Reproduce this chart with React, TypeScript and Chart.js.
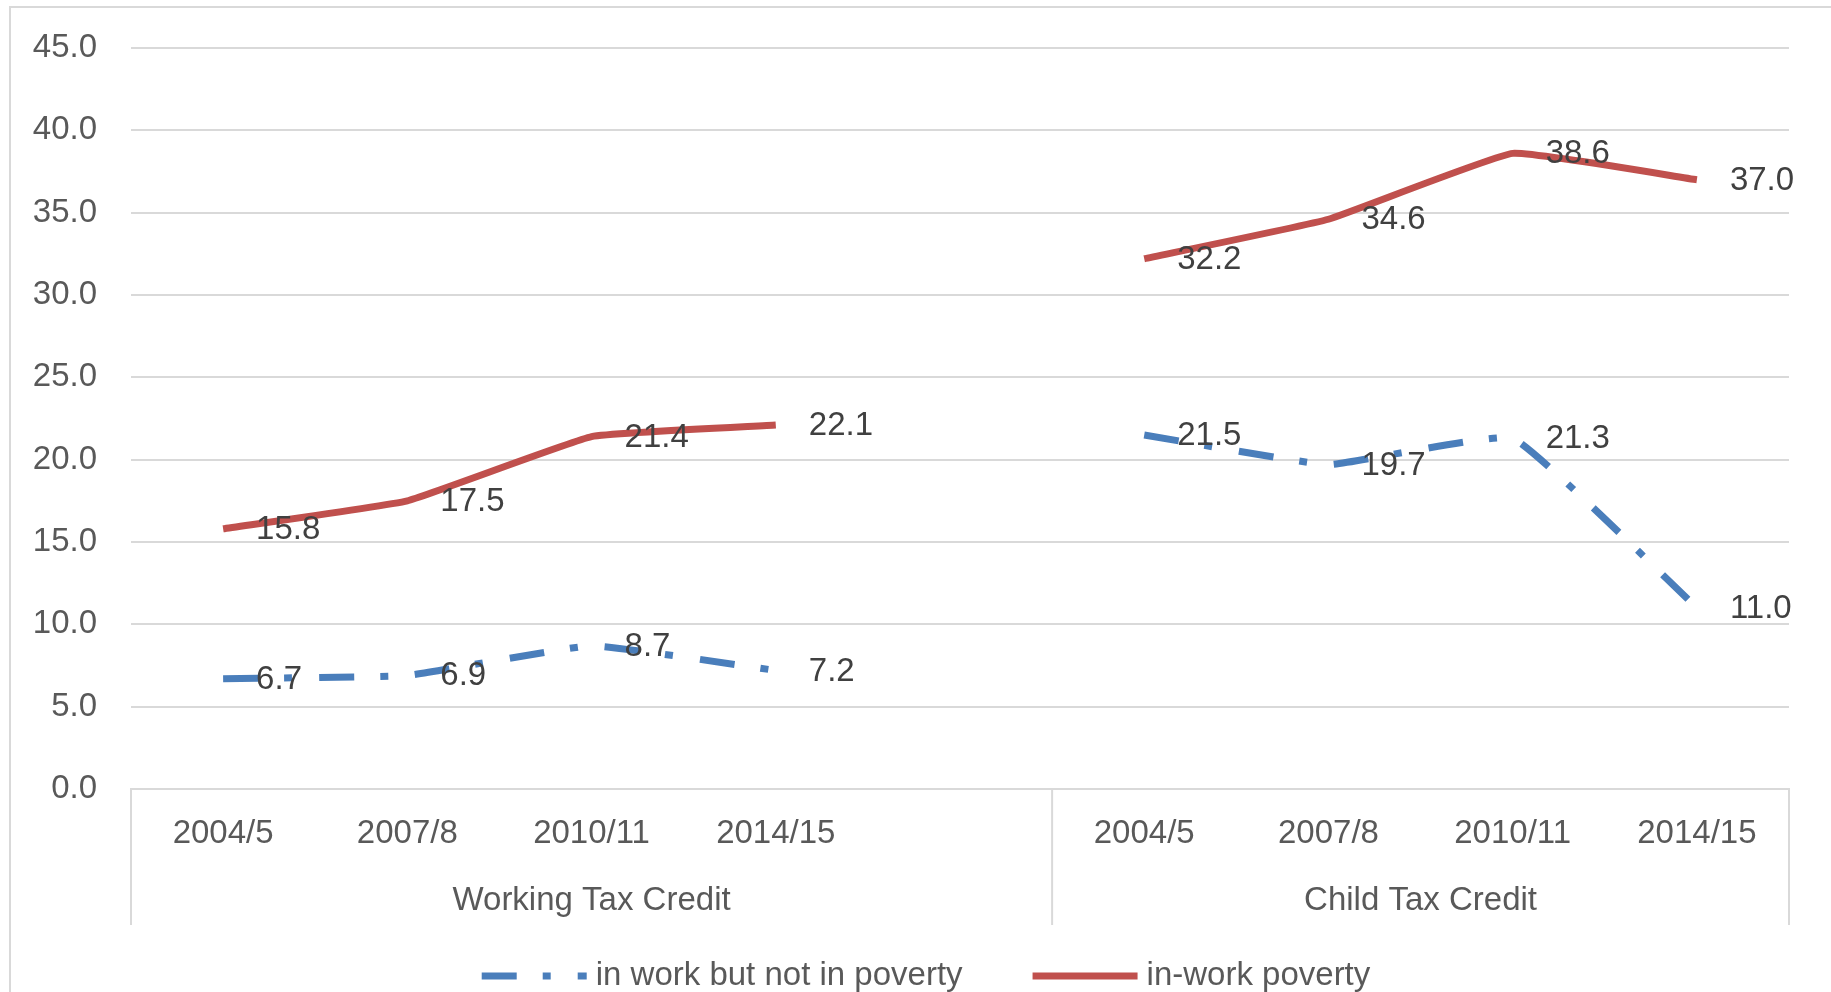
import React, { useEffect, useRef } from 'react';
import { Chart, registerables } from 'chart.js';

Chart.register(...registerables);

// ---- data ----
const categories: string[] = ['2004/5', '2007/8', '2010/11', '2014/15', '', '2004/5', '2007/8', '2010/11', '2014/15'];
const groupNames: string[] = ['Working Tax Credit', 'Child Tax Credit'];
const groupSizes: number[] = [5, 4];
const notInPovertyLabel = 'in work but not in poverty';
const inWorkPovertyLabel = 'in-work poverty';
const notInPoverty: (number | null)[] = [6.7, 6.9, 8.7, 7.2, null, 21.5, 19.7, 21.3, 11.0];
const inWorkPoverty: (number | null)[] = [15.8, 17.5, 21.4, 22.1, null, 32.2, 34.6, 38.6, 37.0];
const yMin = 0;
const yMax = 45;
const yStep = 5;

const FONT = '"Liberation Sans", Arial, sans-serif';
const BLUE = '#4A7EBB';
const RED = '#C0504D';
const GRID = '#D9D9D9';
const TICK = '#595959';
const LABEL = '#404040';
const DASH = [35, 26, 8, 27];

const W = 1831;
const H = 992;

const decorPlugin = {
  id: 'decor',
  beforeDraw(chart: any) {
    const ctx = chart.ctx;
    ctx.save();
    ctx.fillStyle = '#ffffff';
    ctx.fillRect(0, 0, chart.width, chart.height);
    ctx.strokeStyle = GRID;
    ctx.lineWidth = 2;
    ctx.beginPath();
    ctx.moveTo(10, chart.height);
    ctx.lineTo(10, 7);
    ctx.lineTo(chart.width, 7);
    ctx.stroke();
    ctx.restore();
  },
  afterDatasetsDraw(chart: any) {
    const ctx = chart.ctx;
    ctx.save();
    ctx.font = `33px ${FONT}`;
    ctx.fillStyle = LABEL;
    ctx.textAlign = 'left';
    ctx.textBaseline = 'middle';
    chart.data.datasets.forEach((ds: any, di: number) => {
      const meta = chart.getDatasetMeta(di);
      ds.data.forEach((v: number | null, i: number) => {
        if (v === null || v === undefined) return;
        const pt = meta.data[i];
        ctx.fillText(v.toFixed(1), pt.x + 33, pt.y + 1);
      });
    });
    ctx.restore();
  },
  afterDraw(chart: any) {
    const ctx = chart.ctx;
    const x = chart.scales.x;
    const n = categories.length;
    const slot = (x.right - x.left) / n;
    ctx.save();
    // group dividers
    ctx.strokeStyle = GRID;
    ctx.lineWidth = 2;
    let idx = 0;
    const bounds: number[] = [x.left];
    groupSizes.forEach((s) => {
      idx += s;
      bounds.push(x.left + idx * slot);
    });
    bounds.forEach((bx) => {
      ctx.beginPath();
      ctx.moveTo(bx, x.top);
      ctx.lineTo(bx, x.top + 136);
      ctx.stroke();
    });
    // group labels
    ctx.font = `33px ${FONT}`;
    ctx.fillStyle = TICK;
    ctx.textAlign = 'center';
    ctx.textBaseline = 'middle';
    groupNames.forEach((g, gi) => {
      const cx = (bounds[gi] + bounds[gi + 1]) / 2;
      ctx.fillText(g, cx, x.top + 112);
    });
    // legend
    const items = [
      { label: notInPovertyLabel, color: BLUE, dash: DASH },
      { label: inWorkPovertyLabel, color: RED, dash: [] as number[] },
    ];
    const sample = 105;
    const gapText = 9;
    const gapItem = 70;
    ctx.textAlign = 'left';
    const widths = items.map((it) => ctx.measureText(it.label).width);
    const total = items.reduce((a, it, i) => a + sample + gapText + widths[i], 0) + gapItem * (items.length - 1);
    let lx = 926 - total / 2;
    const ly = 976;
    items.forEach((it, i) => {
      ctx.strokeStyle = it.color;
      ctx.lineWidth = 7;
      ctx.lineCap = 'butt';
      ctx.setLineDash(it.dash);
      ctx.beginPath();
      ctx.moveTo(lx, ly);
      ctx.lineTo(lx + sample, ly);
      ctx.stroke();
      ctx.setLineDash([]);
      ctx.fillStyle = TICK;
      ctx.fillText(it.label, lx + sample + gapText, ly);
      lx += sample + gapText + widths[i] + gapItem;
    });
    ctx.restore();
  },
};

export default function App() {
  const ref = useRef<HTMLCanvasElement | null>(null);

  useEffect(() => {
    document.body.style.margin = '0';
    if (!ref.current) return;
    const chart = new Chart(ref.current, {
      type: 'line',
      data: {
        labels: categories,
        datasets: [
          {
            label: notInPovertyLabel,
            data: notInPoverty,
            borderColor: BLUE,
            backgroundColor: BLUE,
            borderWidth: 7,
            borderDash: DASH,
            borderCapStyle: 'butt',
            borderJoinStyle: 'round',
            pointRadius: 0,
            tension: 0.1,
            spanGaps: false,
            fill: false,
          },
          {
            label: inWorkPovertyLabel,
            data: inWorkPoverty,
            borderColor: RED,
            backgroundColor: RED,
            borderWidth: 7,
            borderCapStyle: 'butt',
            borderJoinStyle: 'round',
            pointRadius: 0,
            tension: 0.1,
            spanGaps: false,
            fill: false,
          },
        ],
      },
      options: {
        responsive: false,
        animation: false,
        devicePixelRatio: 1,
        layout: { padding: { top: 48, right: 42, left: 0, bottom: 0 } },
        plugins: {
          legend: { display: false },
          tooltip: { enabled: false },
          title: { display: false },
        },
        scales: {
          x: {
            type: 'category',
            offset: true,
            afterFit: (s: any) => {
              s.height = 203;
            },
            grid: { display: true, drawOnChartArea: false, drawTicks: false, color: 'rgba(0,0,0,0)' },
            border: { display: true, color: GRID, width: 2 },
            ticks: {
              autoSkip: false,
              maxRotation: 0,
              minRotation: 0,
              padding: 25,
              color: TICK,
              font: { family: FONT, size: 33 },
            },
          },
          y: {
            min: yMin,
            max: yMax,
            afterFit: (s: any) => {
              s.width = 131;
              s.paddingTop = 0;
              s.paddingBottom = 0;
            },
            grid: { color: GRID, lineWidth: 2, drawTicks: false },
            border: { display: false },
            ticks: {
              stepSize: yStep,
              padding: 34,
              color: TICK,
              font: { family: FONT, size: 33 },
              callback: (v: any) => Number(v).toFixed(1),
            },
          },
        },
      },
      plugins: [decorPlugin],
    });
    return () => chart.destroy();
  }, []);

  return (
    <div style={{ position: 'absolute', left: 0, top: 0, width: W, height: H }}>
      <canvas ref={ref} width={W} height={H} style={{ display: 'block', width: W, height: H }} />
    </div>
  );
}
